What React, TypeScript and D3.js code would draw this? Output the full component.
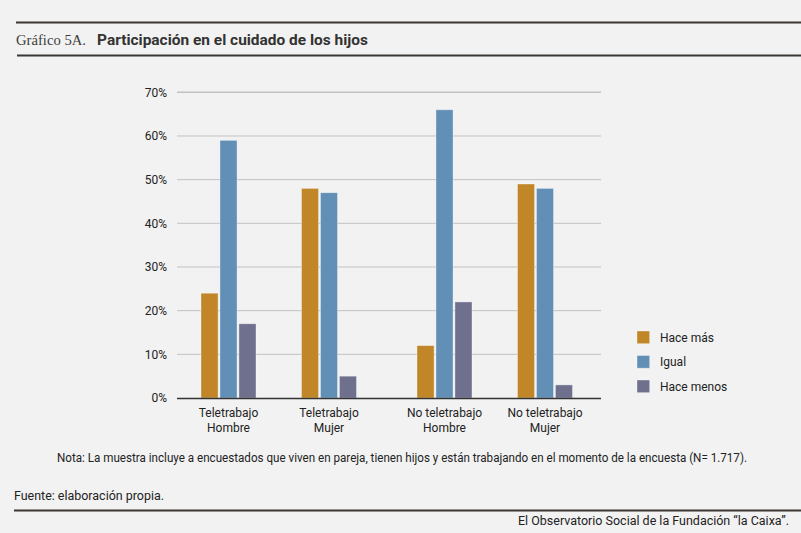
import { useEffect, useRef } from "react";
import * as d3 from "d3";

const categories = [
    ["Teletrabajo", "Hombre"],
    ["Teletrabajo", "Mujer"],
    ["No teletrabajo", "Hombre"],
    ["No teletrabajo", "Mujer"],
];
const seriesNames = ["Hace más", "Igual", "Hace menos"];
const seriesColors = ["#c08627", "#628fb6", "#6f708d"];
const haceMas = [24, 48, 12, 49];
const igual = [59, 47, 66, 48];
const haceMenos = [17, 5, 22, 3];
const yTicks = [0, 10, 20, 30, 40, 50, 60, 70];

const W = 801;
const H = 533;
const sans = "Roboto, 'Liberation Sans', Arial, sans-serif";

export default function App() {
    const svgRef = useRef<SVGSVGElement>(null);

    useEffect(() => {
        document.body.style.margin = "0";
        document.body.style.background = "#f2f2f2";
        if (!svgRef.current) return;
        const svg = d3.select(svgRef.current);
        svg.selectAll("*").remove();

        svg.append("rect").attr("width", W).attr("height", H).attr("fill", "#f2f2f2");

        // header rules and title
        svg.append("line").attr("x1", 16).attr("x2", W).attr("y1", 22.5).attr("y2", 22.5)
            .attr("stroke", "#3a3634").attr("stroke-width", 1.8);
        svg.append("line").attr("x1", 17).attr("x2", W).attr("y1", 55.5).attr("y2", 55.5)
            .attr("stroke", "#3a3634").attr("stroke-width", 1.8);
        svg.append("text").attr("x", 16).attr("y", 44.5)
            .style("font-family", "'Liberation Serif', 'DejaVu Serif', serif")
            .style("font-size", "15.5px").attr("fill", "#3d3d3d")
            .attr("textLength", 70).attr("lengthAdjust", "spacingAndGlyphs")
            .text("Gráfico 5A.");
        svg.append("text").attr("x", 97).attr("y", 44.5)
            .style("font-family", sans).style("font-weight", "bold")
            .style("font-size", "14.5px").attr("fill", "#333")
            .attr("textLength", 271).attr("lengthAdjust", "spacingAndGlyphs")
            .text("Participación en el cuidado de los hijos");

        // scales
        const plotLeft = 177;
        const plotRight = 601;
        const y = d3.scaleLinear().domain([0, 70]).range([398, 92.3]);
        const x = d3.scaleBand<number>()
            .domain(categories.map((_, i) => i))
            .range([178.25, 580.25])
            .padding(0);
        const gap = 15;
        const center = (i: number) => x(i)! + x.bandwidth() / 2 + (i >= 2 ? gap : 0);
        const groupW = 55;
        const inner = d3.scaleBand<number>()
            .domain(seriesNames.map((_, i) => i))
            .range([-groupW / 2, groupW / 2])
            .paddingInner(0.1);

        // gridlines
        svg.append("g").selectAll("line").data(yTicks.filter((t) => t > 0)).join("line")
            .attr("x1", plotLeft).attr("x2", plotRight)
            .attr("y1", (d) => y(d)).attr("y2", (d) => y(d))
            .attr("stroke", "#c2c2c2").attr("stroke-width", (d) => (d === 70 ? 1.6 : 1));

        // y labels
        svg.append("g").selectAll("text").data(yTicks).join("text")
            .attr("x", 167).attr("y", (d) => y(d) + 4.2)
            .attr("text-anchor", "end")
            .style("font-family", sans).style("font-size", "12px").attr("fill", "#222")
            .text((d) => `${d}%`);

        // bars
        const values = [haceMas, igual, haceMenos];
        values.forEach((vals, s) => {
            svg.append("g").selectAll("rect").data(vals).join("rect")
                .attr("x", (_, i) => center(i) + inner(s)!)
                .attr("width", inner.bandwidth())
                .attr("y", (d) => y(d))
                .attr("height", (d) => y(0) - y(d))
                .attr("fill", seriesColors[s])
                .attr("stroke", "#ffffff").attr("stroke-opacity", 0.45)
                .attr("stroke-width", 0.8);
        });

        // baseline
        svg.append("line").attr("x1", plotLeft).attr("x2", plotRight)
            .attr("y1", y(0) + 0.5).attr("y2", y(0) + 0.5)
            .attr("stroke", "#333").attr("stroke-width", 1.5);

        // x labels
        const xl = svg.append("g").selectAll("text").data(categories).join("text")
            .attr("text-anchor", "middle")
            .style("font-family", sans).style("font-size", "12px").attr("fill", "#222");
        xl.append("tspan").attr("x", (_, i) => center(i)).attr("y", 417).text((d) => d[0]);
        xl.append("tspan").attr("x", (_, i) => center(i)).attr("y", 432).text((d) => d[1]);

        // legend
        const lg = svg.append("g").selectAll("g").data(seriesNames).join("g")
            .attr("transform", (_, i) => `translate(637,${331 + i * 24.5})`);
        lg.append("rect").attr("width", 12.7).attr("height", 12.7)
            .attr("fill", (_, i) => seriesColors[i])
            .attr("stroke", "#fff").attr("stroke-opacity", 0.45).attr("stroke-width", 0.8);
        lg.append("text").attr("x", 23).attr("y", 10.8)
            .style("font-family", sans).style("font-size", "12px").attr("fill", "#222")
            .text((d) => d);

        // notes
        svg.append("text").attr("x", 57).attr("y", 462)
            .style("font-family", sans).style("font-size", "12px").attr("fill", "#222")
            .attr("textLength", 690).attr("lengthAdjust", "spacingAndGlyphs")
            .text("Nota: La muestra incluye a encuestados que viven en pareja, tienen hijos y están trabajando en el momento de la encuesta (N= 1.717).");
        svg.append("text").attr("x", 14).attr("y", 500)
            .style("font-family", sans).style("font-size", "12px").attr("fill", "#222")
            .attr("textLength", 150).attr("lengthAdjust", "spacingAndGlyphs")
            .text("Fuente: elaboración propia.");
        svg.append("line").attr("x1", 14).attr("x2", W).attr("y1", 510.5).attr("y2", 510.5)
            .attr("stroke", "#3a3634").attr("stroke-width", 1.8);
        svg.append("text").attr("x", 789).attr("y", 525).attr("text-anchor", "end")
            .style("font-family", sans).style("font-size", "12px").attr("fill", "#222")
            .attr("textLength", 271).attr("lengthAdjust", "spacingAndGlyphs")
            .text("El Observatorio Social de la Fundación “la Caixa”.");
    }, []);

    return <svg ref={svgRef} width={W} height={H} style={{ display: "block" }}></svg>;
}
